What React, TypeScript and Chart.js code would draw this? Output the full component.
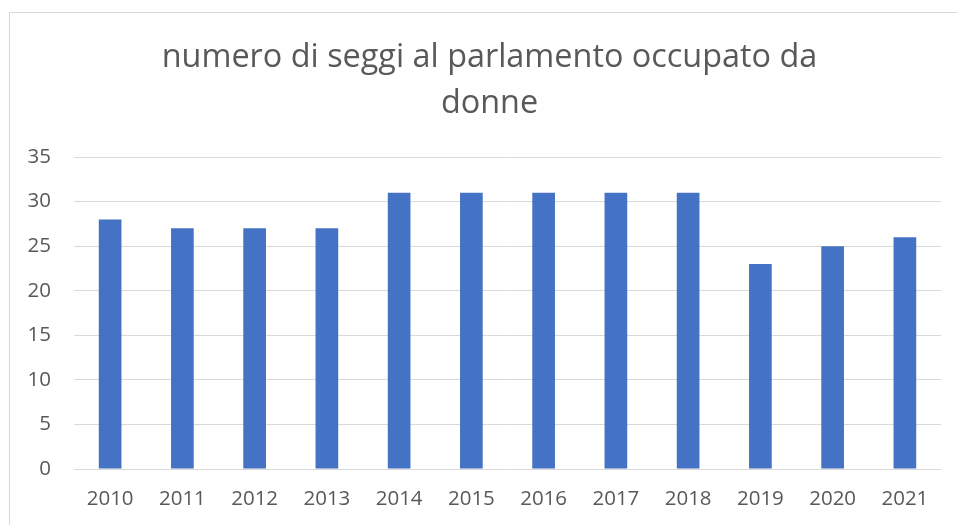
import React, { useEffect, useRef } from "react";
import { Chart, registerables } from "chart.js";

Chart.register(...registerables);

const categories: string[] = ["2010", "2011", "2012", "2013", "2014", "2015", "2016", "2017", "2018", "2019", "2020", "2021"];
const seats: number[] = [28, 27, 27, 27, 31, 31, 31, 31, 31, 23, 25, 26];
const titleLines: string[] = ["numero di seggi al parlamento occupato da", "donne"];
const yMin = 0;
const yMax = 35;
const yStep = 5;

const CANVAS_W = 959;
const CANVAS_H = 512;
const TEXT = "#595959";
const FONT = "'Open Sans', 'DejaVu Sans', sans-serif";

export default function App() {
  const ref = useRef<HTMLCanvasElement | null>(null);

  useEffect(() => {
    if (!ref.current) return;
    const chart = new Chart(ref.current, {
      type: "bar",
      data: {
        labels: categories,
        datasets: [
          {
            label: "seggi",
            data: seats,
            backgroundColor: "#4472C4",
            borderWidth: 0,
            barPercentage: 0.314,
            categoryPercentage: 1,
          },
        ],
      },
      options: {
        responsive: false,
        animation: false,
        devicePixelRatio: 1,
        layout: { padding: { left: 0, right: 0, top: 0, bottom: 0 } },
        plugins: {
          legend: { display: false },
          tooltip: { enabled: false },
          title: {
            display: true,
            text: titleLines,
            color: TEXT,
            font: { family: FONT, size: 32.4, weight: "normal", lineHeight: 1.42 },
            padding: { top: 22, bottom: 30 },
          },
        },
        scales: {
          x: {
            grid: { display: false, drawTicks: false },
            border: { display: false },
            ticks: { color: TEXT, font: { family: FONT, size: 20.5 }, padding: 18, maxRotation: 0, autoSkip: false },
            afterFit: (scale: any) => {
              scale.height = CANVAS_H - 456;
            },
          },
          y: {
            min: yMin,
            max: yMax,
            grid: { color: "#d9d9d9", lineWidth: 1, drawTicks: false },
            border: { display: false },
            ticks: { stepSize: yStep, color: TEXT, font: { family: FONT, size: 20.5 }, padding: 23 },
            afterFit: (scale: any) => {
              scale.width = 64;
            },
          },
          yRight: {
            type: "linear",
            position: "right",
            display: true,
            grid: { display: false, drawTicks: false },
            border: { display: false },
            ticks: { display: false },
            afterFit: (scale: any) => {
              scale.width = 28;
            },
          },
        },
      },
    });
    return () => chart.destroy();
  }, []);

  return (
    <div style={{ position: "fixed", inset: 0, overflow: "hidden", background: "#fff" }}>
      <div
        style={{
          position: "absolute",
          left: 9,
          top: 12,
          width: CANVAS_W,
          height: 530,
          border: "1px solid #d9d9d9",
          background: "#fff",
        }}
      >
        <canvas ref={ref} width={CANVAS_W} height={CANVAS_H} style={{ display: "block", width: CANVAS_W, height: CANVAS_H }} />
      </div>
    </div>
  );
}
